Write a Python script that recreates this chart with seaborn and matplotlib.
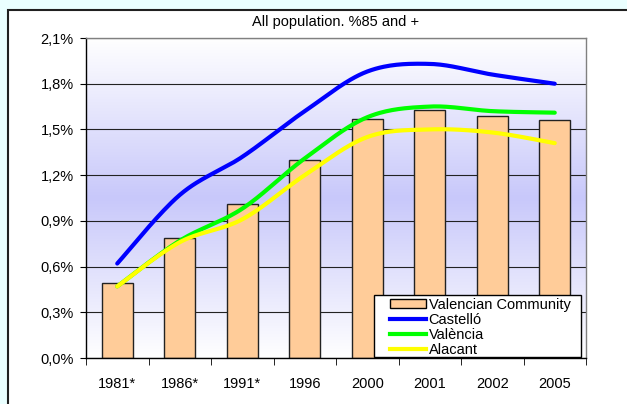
import numpy as np
import pandas as pd
import seaborn as sns
import matplotlib
matplotlib.use("Agg")
import matplotlib.pyplot as plt
from matplotlib.patches import Rectangle, Patch
from matplotlib.lines import Line2D

# ---------------- data ----------------
years = ["1981*", "1986*", "1991*", "1996", "2000", "2001", "2002", "2005"]
valencian_community = [0.49, 0.79, 1.01, 1.30, 1.57, 1.63, 1.59, 1.56]
castello = [0.62, 1.07, 1.32, 1.62, 1.88, 1.93, 1.86, 1.80]
valencia = [0.47, 0.77, 0.98, 1.31, 1.58, 1.65, 1.62, 1.61]
alacant = [0.47, 0.76, 0.91, 1.20, 1.45, 1.50, 1.48, 1.41]
y_ticks = [0.0, 0.3, 0.6, 0.9, 1.2, 1.5, 1.8, 2.1]
title = "All population. %85 and +"
series_names = ["Castelló", "València", "Alacant"]
bar_name = "Valencian Community"

plt.rcParams["font.family"] = ["Liberation Sans", "DejaVu Sans"]

W, H = 627, 404
fig = plt.figure(figsize=(W / 100, H / 100), dpi=100)
fig.patch.set_facecolor("#EAFFFF")

# white chart area with dark border
fig.patches.append(Rectangle((8 / W, -0.05), 1.2, (H - 10) / H + 0.05,
                             transform=fig.transFigure, facecolor="white",
                             edgecolor="#202020", linewidth=1.5, zorder=-10))

ax = fig.add_axes([86 / W, (H - 358) / H, 500 / W, 320 / H])
ax.set_facecolor("none")
ax.set_zorder(1)

# gradient background (white at edges, lavender in the middle)
n = 256
yy = np.linspace(0, 1, n)
t = np.abs(yy - 0.5) / 0.5
c_mid = np.array([200, 200, 250]) / 255.0
c_edge = np.array([1.0, 1.0, 1.0])
grad = (c_mid[None, :] * (1 - t[:, None]) + c_edge[None, :] * t[:, None])
grad = grad[:, None, :]
ax.imshow(grad, extent=[-0.5, 7.5, 0, 2.1], origin="lower", aspect="auto",
          zorder=0, interpolation="bilinear")

df = pd.DataFrame({"year": years, "value": valencian_community})
sns.barplot(data=df, x="year", y="value", color="#FFCC99", edgecolor="#222222",
            linewidth=1.0, width=0.5, saturation=1, ax=ax, zorder=2)


def smooth(xs, ys, steps=30):
    p = np.column_stack([xs, ys]).astype(float)
    m = len(p)
    out = []
    for i in range(m - 1):
        p0 = p[i]
        p3 = p[i + 1]
        pm = p[i - 1] if i > 0 else p[i]
        pp = p[i + 2] if i + 2 < m else p[i + 1]
        p1 = p0 + (p3 - pm) / 6.0
        p2 = p3 - (pp - p0) / 6.0
        tt = np.linspace(0, 1, steps, endpoint=(i == m - 2))[:, None]
        seg = ((1 - tt) ** 3) * p0 + 3 * ((1 - tt) ** 2) * tt * p1 \
            + 3 * (1 - tt) * tt ** 2 * p2 + tt ** 3 * p3
        out.append(seg)
    out = np.vstack(out)
    return out[:, 0], out[:, 1]


xpos = np.arange(len(years))
colors = ["#0000FF", "#00FF00", "#FFFF00"]
for vals, col in zip([castello, valencia, alacant], colors):
    sx, sy = smooth(xpos, vals)
    ax.plot(sx, sy, color=col, lw=3.0, solid_capstyle="round", zorder=4)

ax.set_xlim(-0.5, 7.5)
ax.set_ylim(0, 2.1)
ax.set_yticks(y_ticks)
ax.set_yticklabels([f"{v:.1f}%".replace(".", ",") for v in y_ticks])
ax.yaxis.grid(True, color="#222222", lw=0.8)
ax.xaxis.grid(False)
ax.set_axisbelow(True)
for gl in ax.get_ygridlines():
    gl.set_zorder(1)

ax.set_xlabel("")
ax.set_ylabel("")
ax.set_xticks(xpos)
ax.set_xticklabels(years)
ax.set_xticks(np.arange(-0.5, 8.0, 1.0), minor=True)
ax.tick_params(axis="x", which="major", length=0, pad=14, labelsize=10.5)
ax.tick_params(axis="x", which="minor", length=5, direction="out", color="black")
ax.tick_params(axis="y", length=4, direction="out", color="black", labelsize=10.5, pad=5)

ax.spines["left"].set_color("black")
ax.spines["bottom"].set_color("black")
ax.spines["top"].set_color("#808080")
ax.spines["right"].set_color("#808080")
for s in ax.spines.values():
    s.set_linewidth(1.0)
    s.set_zorder(5)

fig.text((86 + 586) / 2 / W, (H - 22) / H, title, ha="center", va="center",
         fontsize=10.5)

# legend frame drawn separately (wide horizontal padding, tight vertical)
lx0, lx1 = (374 - 86) / 500, (581 - 86) / 500
ly0, ly1 = (358 - 357) / 320, (358 - 295) / 320
ax.add_patch(Rectangle((lx0, ly0), lx1 - lx0, ly1 - ly0, transform=ax.transAxes,
                       facecolor="white", edgecolor="black", linewidth=1.0,
                       zorder=9, clip_on=False))

handles = [Patch(facecolor="#FFCC99", edgecolor="black", linewidth=1.0)]
handles += [Line2D([0], [0], color=c, lw=3.0) for c in colors]
labels = [bar_name] + series_names
leg = ax.legend(handles, labels, loc="upper left",
                bbox_to_anchor=((390 - 86) / 500, (358 - 298) / 320),
                frameon=False, fontsize=10.5, labelspacing=0.07,
                handlelength=2.5, handleheight=0.6,
                handletextpad=0.15, borderpad=0.0, borderaxespad=0.0)
leg.set_zorder(10)

fig.savefig("out.png", dpi=100, facecolor=fig.get_facecolor())
